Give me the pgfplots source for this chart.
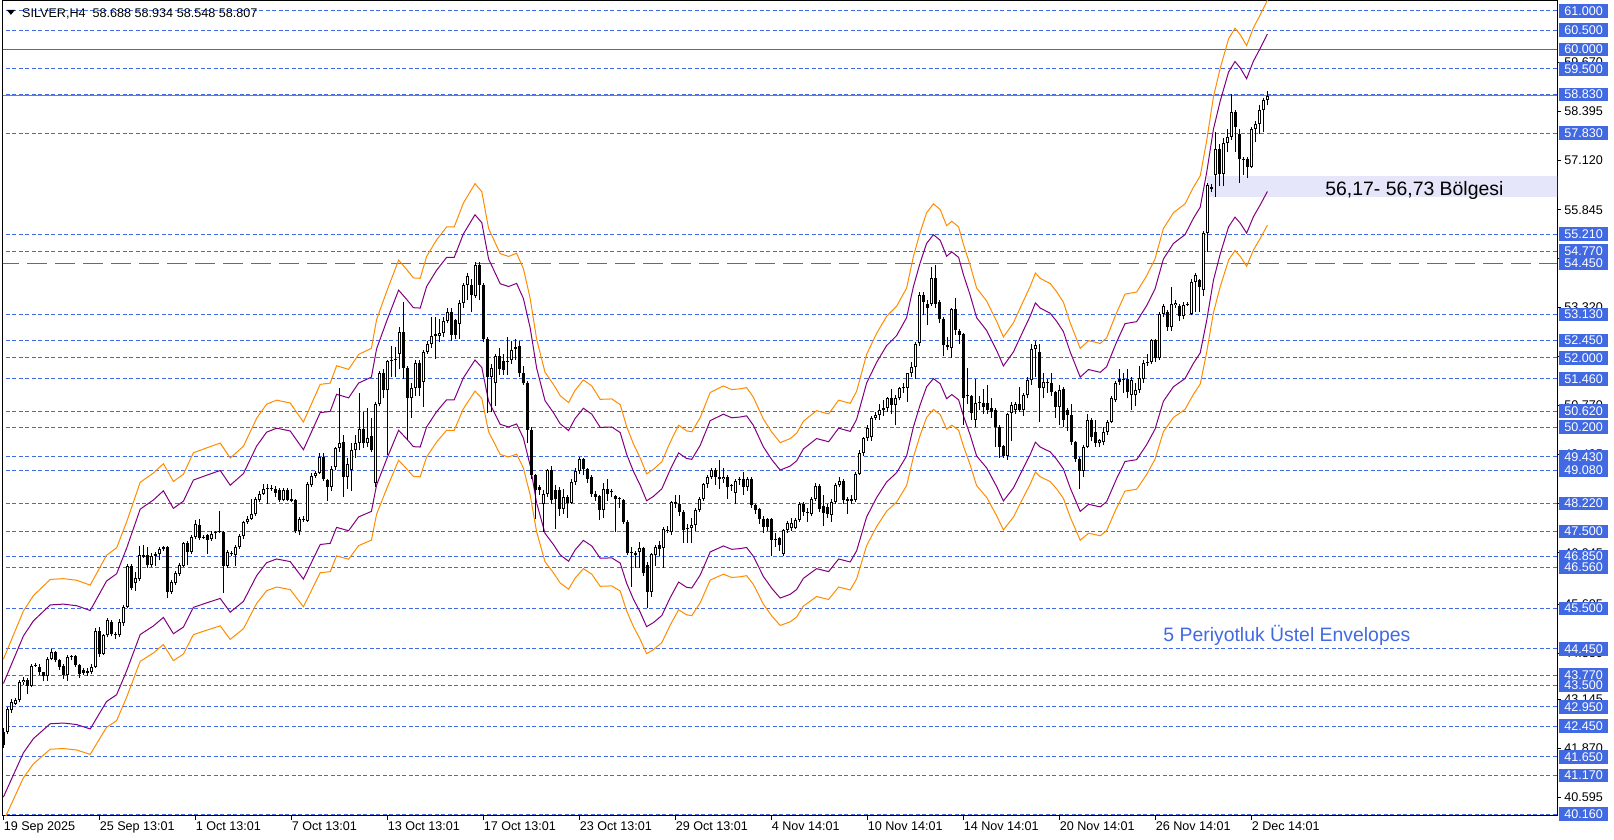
\documentclass[border=0pt]{standalone}
\usepackage{pgfplots}
\pgfplotsset{compat=1.18}
\usepackage{pgfplotstable}
\usepackage{fontspec}
\setmainfont{Liberation Sans}

\definecolor{lvl}{RGB}{65,105,225}
\definecolor{envo}{RGB}{255,140,0}
\definecolor{envp}{RGB}{128,0,128}
\definecolor{band}{RGB}{230,230,250}
\newcommand\tickfont{\fontsize{6.3}{7}\selectfont}
\newcommand\bigfont{\fontsize{9.7}{11}\selectfont}

% SILVER H4 candles: index, open, high, low, close
\pgfplotstableread{
i o h l c
0 42.30 42.40 41.88 41.95
1 42.30 42.95 42.25 42.90
2 42.86 43.14 42.80 43.07
3 43.03 43.18 43.00 43.13
4 43.12 43.65 43.08 43.59
5 43.59 43.72 43.52 43.65
6 43.65 43.70 43.29 43.50
7 43.50 44.05 43.45 44.01
8 44.02 44.08 43.98 44.04
9 43.98 44.05 43.78 43.85
10 43.85 43.85 43.62 43.74
11 43.74 44.25 43.62 44.20
12 44.20 44.45 44.15 44.37
13 44.37 44.40 44.10 44.17
14 44.17 44.20 43.90 43.98
15 44.02 44.05 43.68 43.77
16 43.77 44.28 43.62 44.24
17 44.24 44.30 44.15 44.26
18 44.26 44.30 43.98 44.03
19 44.03 44.05 43.70 43.81
20 43.90 43.95 43.78 43.83
21 43.83 43.95 43.76 43.88
22 43.85 44.05 43.80 43.98
23 43.98 45.00 43.95 44.92
24 44.92 45.02 44.25 44.33
25 44.33 44.85 44.28 44.80
26 44.80 45.25 44.75 45.19
27 45.15 45.20 44.78 44.85
28 44.85 44.90 44.72 44.80
29 44.80 45.22 44.75 45.15
30 45.11 45.58 45.05 45.54
31 45.54 46.65 45.50 46.60
32 46.60 46.65 45.98 46.02
33 46.16 46.45 45.96 46.30
34 46.27 47.12 46.20 46.88
35 46.88 47.15 46.80 46.84
36 46.88 47.10 46.55 46.62
37 46.62 46.95 46.58 46.86
38 46.86 46.96 46.60 46.90
39 46.90 47.10 46.75 47.03
40 47.05 47.13 47.00 47.09
41 47.09 47.13 45.78 45.93
42 45.93 46.24 45.88 46.19
43 46.16 46.48 46.10 46.42
44 46.40 46.68 46.35 46.62
45 46.60 47.22 46.58 47.20
46 47.20 47.25 46.62 46.97
47 46.97 47.40 46.92 47.36
48 47.36 47.80 47.30 47.69
49 47.66 47.82 47.28 47.34
50 47.36 47.40 47.30 47.34
51 47.40 47.42 46.92 47.27
52 47.29 47.50 47.25 47.44
53 47.45 47.50 47.30 47.46
54 47.48 48.02 47.45 47.50
55 47.48 47.52 45.89 46.60
56 46.60 47.02 46.55 46.97
57 46.95 47.00 46.85 46.92
58 46.88 47.15 46.60 47.10
59 47.10 47.42 47.05 47.38
60 47.38 47.78 47.30 47.73
61 47.73 47.90 47.70 47.82
62 47.83 48.35 47.80 47.96
63 47.94 48.40 47.90 48.33
64 48.31 48.55 48.25 48.48
65 48.48 48.72 48.45 48.59
66 48.60 48.72 48.20 48.62
67 48.62 48.70 48.55 48.61
68 48.61 48.68 48.40 48.50
69 48.57 48.62 48.27 48.31
70 48.31 48.62 48.28 48.57
71 48.57 48.62 48.28 48.31
72 48.35 48.60 48.25 48.29
73 48.31 48.35 47.45 47.51
74 47.51 47.86 47.40 47.82
75 47.80 47.90 47.75 47.83
76 47.77 48.78 47.75 48.72
77 48.70 49.02 48.65 48.93
78 48.93 49.06 48.88 49.02
79 49.02 49.52 48.98 49.42
80 49.43 49.52 48.80 48.87
81 48.83 48.86 48.30 48.65
82 48.65 49.20 48.55 49.13
83 49.17 49.70 49.10 49.65
84 49.65 51.21 49.55 49.80
85 49.82 50.00 48.39 48.91
86 48.91 49.40 48.60 49.26
87 49.09 49.80 48.55 49.61
88 49.61 50.00 49.40 49.80
89 49.80 51.09 49.60 50.15
90 50.15 50.60 49.65 49.80
91 49.78 50.70 49.70 49.93
92 49.98 50.45 49.55 49.61
93 48.75 50.85 48.64 50.80
94 50.80 51.65 50.75 51.60
95 51.60 51.72 50.95 51.16
96 51.16 51.95 49.48 51.92
97 51.92 52.30 51.50 51.95
98 51.95 52.29 51.51 51.98
99 52.10 52.80 51.70 52.68
100 52.68 53.46 51.45 51.75
101 51.75 51.80 49.87 50.97
102 50.97 51.35 50.45 51.21
103 51.21 51.95 51.00 51.88
104 51.88 51.95 51.00 51.21
105 51.38 52.20 50.73 52.16
106 52.16 52.45 52.10 52.37
107 52.37 53.07 52.25 52.57
108 52.58 53.07 51.98 52.62
109 52.56 53.00 52.40 52.65
110 52.65 53.05 52.55 52.96
111 52.96 53.30 52.90 53.18
112 53.18 53.30 52.45 52.59
113 52.98 53.00 52.50 52.59
114 52.89 53.50 52.50 53.43
115 53.43 53.95 53.30 53.89
116 53.89 54.20 53.50 54.12
117 53.89 54.05 53.20 53.63
118 53.61 54.48 53.55 54.41
119 54.41 54.48 53.50 53.89
120 53.89 53.95 52.40 52.48
121 52.48 52.55 50.56 51.51
122 51.51 51.85 50.60 51.73
123 51.34 52.10 50.75 52.05
124 52.05 52.25 51.55 51.70
125 51.92 52.10 51.55 51.68
126 51.93 52.55 51.55 51.90
127 51.94 52.45 51.85 52.20
128 52.23 52.50 51.95 52.28
129 52.31 52.45 51.50 51.60
130 51.60 51.80 51.30 51.34
131 51.34 51.40 49.78 50.13
132 50.13 50.20 48.85 48.96
133 48.96 49.00 47.83 48.57
134 48.65 48.70 48.45 48.57
135 48.22 48.58 47.49 48.48
136 48.48 49.12 48.40 49.08
137 49.08 49.20 48.20 48.31
138 48.57 48.70 47.55 48.33
139 48.57 48.65 47.90 48.09
140 48.09 48.60 47.95 48.39
141 48.39 48.45 47.85 48.24
142 48.24 48.85 48.20 48.78
143 48.78 49.15 48.70 49.07
144 49.07 49.42 49.00 49.37
145 49.37 49.40 48.95 49.11
146 49.11 49.15 48.75 48.87
147 48.92 48.95 48.40 48.48
148 48.48 48.55 48.30 48.39
149 48.41 48.45 47.80 48.05
150 48.05 48.75 47.85 48.61
151 48.61 48.85 48.30 48.48
152 48.55 48.60 48.40 48.51
153 48.41 48.45 47.49 48.35
154 48.33 48.40 48.10 48.36
155 48.31 48.35 47.70 47.75
156 47.75 47.80 46.88 46.93
157 46.95 47.10 46.06 46.97
158 46.93 47.00 46.55 46.88
159 46.97 47.22 46.55 47.06
160 47.06 47.10 46.34 46.41
161 46.62 46.70 45.50 45.93
162 45.93 46.95 45.80 46.92
163 46.88 47.15 46.60 47.10
164 47.14 47.25 46.85 47.03
165 47.06 47.62 46.55 47.57
166 47.54 47.65 47.45 47.50
167 47.49 48.30 47.40 48.27
168 48.27 48.45 48.10 48.22
169 48.22 48.45 47.90 48.01
170 48.01 48.05 47.20 47.53
171 47.60 47.70 47.20 47.55
172 47.60 47.85 47.20 47.66
173 47.66 48.10 47.50 48.05
174 48.05 48.40 48.00 48.35
175 48.35 48.75 48.30 48.72
176 48.72 48.95 48.62 48.91
177 48.91 49.15 48.85 49.08
178 49.10 49.15 48.70 48.91
179 48.91 49.35 48.60 48.85
180 48.85 49.15 48.75 48.91
181 48.91 48.95 48.35 48.66
182 48.67 48.72 48.55 48.68
183 48.50 48.85 48.20 48.81
184 48.82 48.90 48.70 48.85
185 48.85 49.05 48.45 48.66
186 48.66 48.90 48.55 48.85
187 48.85 48.90 48.10 48.18
188 48.18 48.20 47.95 48.05
189 48.07 48.10 47.70 47.83
190 47.83 47.90 47.45 47.62
191 47.81 47.85 47.50 47.62
192 47.81 47.85 46.85 47.27
193 47.28 47.45 47.10 47.30
194 47.34 47.35 47.00 47.14
195 46.92 47.55 46.85 47.53
196 47.53 47.78 47.45 47.72
197 47.58 47.85 47.50 47.72
198 47.58 47.85 47.55 47.79
199 47.79 48.25 47.75 48.20
200 48.20 48.25 47.90 48.01
201 48.00 48.10 47.75 47.97
202 47.95 48.40 47.90 48.35
203 48.35 48.75 48.30 48.67
204 48.67 48.72 48.00 48.09
205 48.15 48.45 47.65 47.98
206 48.14 48.20 47.85 47.96
207 47.92 48.35 47.75 48.27
208 48.27 48.75 48.20 48.70
209 48.70 48.90 48.65 48.80
210 48.80 48.85 48.20 48.31
211 48.35 48.40 47.95 48.29
212 48.35 48.45 48.20 48.30
213 48.31 49.05 48.25 49.00
214 49.00 49.60 48.95 49.54
215 49.52 49.95 49.45 49.91
216 49.91 50.25 49.85 50.19
217 49.95 50.48 49.85 50.43
218 50.45 50.60 50.40 50.51
219 50.51 50.80 50.40 50.65
220 50.66 50.90 50.50 50.71
221 50.71 50.98 50.60 50.95
222 50.95 51.20 50.55 50.78
223 50.78 51.05 50.25 50.95
224 50.95 51.25 50.90 51.21
225 51.21 51.35 51.10 51.23
226 51.21 51.62 50.85 51.60
227 51.60 51.90 51.50 51.77
228 51.77 52.40 51.45 52.37
229 52.38 53.70 52.30 53.63
230 53.63 53.70 53.10 53.46
231 53.40 53.50 52.85 53.30
232 53.41 54.35 53.35 54.06
233 54.06 54.40 53.30 53.41
234 53.46 53.50 52.90 53.00
235 53.00 53.05 52.04 52.33
236 52.33 52.55 52.20 52.27
237 52.25 53.30 52.00 53.26
238 53.26 53.55 52.60 52.72
239 52.70 52.75 52.35 52.59
240 52.61 52.65 50.26 50.95
241 51.01 51.75 50.80 51.00
242 51.01 51.05 50.40 50.56
243 50.39 51.45 50.20 50.82
244 50.82 51.00 50.65 50.84
245 50.82 51.20 50.55 50.73
246 50.82 51.30 50.55 50.65
247 50.69 50.95 50.45 50.60
248 50.65 50.70 49.70 50.21
249 50.21 50.25 49.40 49.69
250 49.71 49.75 49.40 49.45
251 49.45 50.58 49.35 50.54
252 50.56 50.85 49.85 50.77
253 50.64 50.85 50.55 50.80
254 50.80 51.25 50.60 50.64
255 50.64 51.10 50.50 51.03
256 51.03 51.50 50.95 51.42
257 51.42 52.35 51.30 52.22
258 52.22 52.45 51.50 52.33
259 52.16 52.35 50.34 51.21
260 51.21 51.60 50.95 51.38
261 51.38 51.45 51.10 51.34
262 51.34 51.60 51.00 51.12
263 51.12 51.15 50.45 50.73
264 50.73 51.30 50.25 51.18
265 51.20 51.25 50.20 50.39
266 50.65 50.70 50.10 50.52
267 50.52 50.80 49.75 49.82
268 49.82 49.85 49.30 49.39
269 49.39 49.42 48.61 49.07
270 49.07 49.75 48.90 49.69
271 49.69 50.55 49.65 50.39
272 50.39 50.45 49.85 49.95
273 50.08 50.40 49.70 49.78
274 49.78 49.90 49.70 49.87
275 49.82 50.20 49.75 50.08
276 50.08 50.40 50.00 50.34
277 50.34 51.00 50.30 50.95
278 50.90 51.40 50.85 51.34
279 51.38 51.70 51.30 51.44
280 51.44 51.60 51.10 51.42
281 51.44 51.70 50.95 51.12
282 51.03 51.50 50.65 51.42
283 51.03 51.35 50.75 51.18
284 51.18 51.80 51.10 51.47
285 51.44 51.95 51.35 51.86
286 51.86 52.10 51.80 51.90
287 51.90 52.50 51.85 52.46
288 52.46 52.50 51.90 51.99
289 51.99 53.20 51.95 53.15
290 53.15 53.40 53.05 53.34
291 53.20 53.25 52.70 52.79
292 52.79 53.85 52.70 53.41
293 53.37 53.50 53.30 53.43
294 53.34 53.40 52.95 53.08
295 53.08 53.45 53.00 53.37
296 53.37 53.45 53.35 53.40
297 53.14 54.05 53.10 53.98
298 53.98 54.20 53.20 54.15
299 54.02 54.05 53.20 53.85
300 53.76 55.28 53.60 55.23
301 55.23 56.53 54.75 56.48
302 56.44 56.50 56.30 56.37
303 56.74 57.87 56.18 57.41
304 57.41 57.55 56.45 56.77
305 56.77 57.70 56.45 57.57
306 57.57 57.95 57.35 57.74
307 57.74 58.85 57.65 58.37
308 58.37 58.42 57.35 57.99
309 57.81 57.95 56.55 57.15
310 57.15 57.20 56.75 57.13
311 57.15 57.22 56.66 56.96
312 56.96 58.00 56.92 57.95
313 57.95 58.15 57.60 58.07
314 58.07 58.55 57.81 58.43
315 58.43 58.73 57.85 58.69
316 58.688 58.934 58.548 58.807
}\candles

% middle line of the 5 period exponential envelopes
\pgfplotstableread{
i m
0 42.08
5 43.27
7.5 43.65
11.7 44.05
15 44.07
18.3 44.03
21.7 43.91
23.3 44.20
25.8 44.65
28.3 44.83
30.8 45.47
34.2 46.45
37.5 46.68
40 46.91
42.5 46.47
45 46.65
47.5 47.18
50.8 47.30
54.2 47.42
56.7 47.05
60 47.34
63.3 48.03
65.8 48.38
68.3 48.48
71.7 48.41
75 47.94
79.2 48.87
81.7 48.90
83.3 49.33
86.3 49.24
88.8 49.61
92 49.76
93.3 50.47
95.8 51.16
98.8 51.94
100.8 51.71
102.5 51.50
104.2 51.49
105.8 52.03
108.3 52.44
110.8 52.76
112.7 52.76
115 53.35
117.9 53.83
119.6 53.63
121.3 52.72
124.2 52.10
126.3 52.03
128.3 52.11
130 51.73
131.7 50.99
133.3 49.99
135.4 49.17
137.5 48.87
139.2 48.59
141.3 48.42
142.9 48.72
145 48.98
147.1 48.83
149.2 48.50
152.1 48.51
154.2 48.37
155.8 47.83
157.5 47.40
159.2 47.05
160.8 46.66
162.5 46.77
164.6 46.96
166.7 47.44
168.8 47.86
170.8 47.72
172.1 47.70
174.2 48.05
176.7 48.67
180 48.83
182.1 48.74
184.2 48.76
185.8 48.79
187.5 48.55
190 48.01
192.1 47.69
194.2 47.43
196.7 47.53
198.3 47.66
200 47.96
203.3 48.22
206.3 48.14
208.8 48.48
211.7 48.40
213.3 48.70
215.8 49.61
218.3 50.13
220.8 50.55
223.3 50.80
225.8 51.25
227.5 52.03
229.2 52.63
230.8 53.11
232.5 53.33
234.2 53.19
235.8 52.79
237.1 52.90
238.8 52.76
240 52.33
241.7 51.81
243.3 51.25
245.8 50.93
248.3 50.43
250 50.04
252.5 50.39
255 50.93
256.7 51.29
258 51.62
259.2 51.49
261.7 51.36
263.3 51.16
265 50.90
266.7 50.39
269.2 49.76
271.3 49.95
274.2 49.88
275.8 50.02
278.3 50.64
280.4 51.10
283.3 51.15
285.8 51.55
287.9 51.97
290 52.72
292.5 53.11
295.4 53.33
297.5 53.74
299.2 54.02
300.8 54.88
302.5 55.97
304.2 56.68
306.3 57.41
307.9 57.67
309.2 57.51
310.8 57.24
312.5 57.68
314.2 58.00
316 58.36
}\env

\begin{document}
\begin{tikzpicture}
\begin{axis}[
  at={(0,0)}, anchor=south west,
  width=777pt, height=407.5pt, scale only axis,
  xmin=-0.1, xmax=388.4,
  ymin=40.116, ymax=61.259,
  axis line style={line width=0.5pt, black},
  tick align=outside,
  xtick pos=bottom, ytick pos=right,
  yticklabel pos=right,
  major tick length=2pt,
  tick style={line width=0.5pt, black},
  xtick={0,24,...,312},
  xticklabels={19 Sep 2025, 25 Sep 13:01, 1 Oct 13:01, 7 Oct 13:01, 13 Oct 13:01, 17 Oct 13:01, 23 Oct 13:01, 29 Oct 13:01, 4 Nov 14:01, 10 Nov 14:01, 14 Nov 14:01, 20 Nov 14:01, 26 Nov 14:01, 2 Dec 14:01},
  xticklabel style={anchor=north west, inner sep=0pt, yshift=-0.5pt, font=\tickfont},
  ytick={59.670,58.395,57.120,55.845,54.570,53.320,52.045,50.770,49.495,48.220,46.945,45.605,44.330,43.145,41.870,40.595},
  yticklabels={59.670,58.395,57.120,55.845,54.570,53.320,52.045,50.770,49.495,48.220,46.945,45.605,44.330,43.145,41.870,40.595},
  yticklabel style={anchor=west, inner sep=0pt, xshift=1.5pt, font=\tickfont},
  extra y ticks={61.000,60.500,60.000,59.500,58.830,57.830,55.210,54.770,54.450,53.130,52.450,52.000,51.460,50.620,50.200,49.430,49.080,48.220,47.500,46.850,46.560,45.500,44.450,43.770,43.500,42.950,42.450,41.650,41.170,40.160},
  extra y tick labels={61.000,60.500,60.000,59.500,58.830,57.830,55.210,54.770,54.450,53.130,52.450,52.000,51.460,50.620,50.200,49.430,49.080,48.220,47.500,46.850,46.560,45.500,44.450,43.770,43.500,42.950,42.450,41.650,41.170,40.160},
  extra y tick style={major tick length=0pt,
    yticklabel style={fill=lvl, text=white, inner xsep=2.5pt, inner ysep=0pt,
      text width=19.5pt, align=left, minimum height=6.8pt, xshift=-0.5pt}},
  clip=true,
]
% zone band
\addplot[draw=none, fill=band] coordinates {(300.8,56.17) (400,56.17) (400,56.73) (300.8,56.73)};

% level lines
\pgfplotsinvokeforeach{61,60.5,59.5,58.83,57.83,55.21,54.77,53.13,52.45,52,51.46,50.62,50.2,49.43,49.08,48.22,47.5,46.85,46.56,45.5,44.45,43.77,43.5,42.95,42.45,41.65,41.17,40.16}{
  \addplot[lvl, line width=0.5pt, dash pattern=on 2pt off 1.25pt] coordinates {(-1,#1) (400,#1)};
}
\addplot[lvl, line width=0.5pt] coordinates {(-1,60) (400,60)};
\addplot[lvl, line width=0.6pt, dash pattern=on 10pt off 4pt] coordinates {(-1,54.45) (400,54.45)};
\addplot[gray, line width=0.5pt] coordinates {(-1,58.807) (400,58.807)};

% envelopes
\addplot[envo, line width=0.5pt] table[x=i, y expr=\thisrow{m}*1.05] {\env};
\addplot[envp, line width=0.5pt] table[x=i, y expr=\thisrow{m}*1.035] {\env};
\addplot[envp, line width=0.5pt] table[x=i, y expr=\thisrow{m}*0.965] {\env};
\addplot[envo, line width=0.5pt] table[x=i, y expr=\thisrow{m}*0.95] {\env};

% candles: wick, body, hollow inside of rising bodies
\addplot[black, mark=none, line width=0.5pt, -, quiver={u=0, v=\thisrow{h}-\thisrow{l}}]
  table[x=i, y=l] {\candles};
\addplot[black, mark=none, line width=1.5pt, -, quiver={u=0, v={max(abs(\thisrow{c}-\thisrow{o}),0.026)}}]
  table[x=i, y expr={min(\thisrow{o},\thisrow{c})}] {\candles};
\addplot[white, mark=none, line width=0.5pt, -, quiver={u=0, v=\thisrow{c}-\thisrow{o}-0.052},
  restrict expr to domain={\thisrow{c}-\thisrow{o}}{0.06:100}]
  table[x=i, y expr={\thisrow{o}+0.026}] {\candles};

% texts
\node[anchor=base west, inner sep=0pt, font=\bigfont] at (axis cs:330.4,56.225) {56,17- 56,73 Bölgesi};
\node[anchor=base west, inner sep=0pt, font=\bigfont, text=lvl] at (axis cs:289.9,44.65) {5 Periyotluk Üstel Envelopes};
\node[anchor=base west, inner sep=0pt, font=\tickfont] at (axis cs:4.6,60.84) {SILVER,H4\ \ 58.688 58.934 58.548 58.807};
\fill[black] (axis cs:0.84,61.03) -- (axis cs:2.92,61.03) -- (axis cs:1.88,60.90) -- cycle;
\end{axis}
\pgfresetboundingbox
\path (-1.5pt,-12pt) rectangle (805.5pt,408pt);
\end{tikzpicture}
\end{document}
